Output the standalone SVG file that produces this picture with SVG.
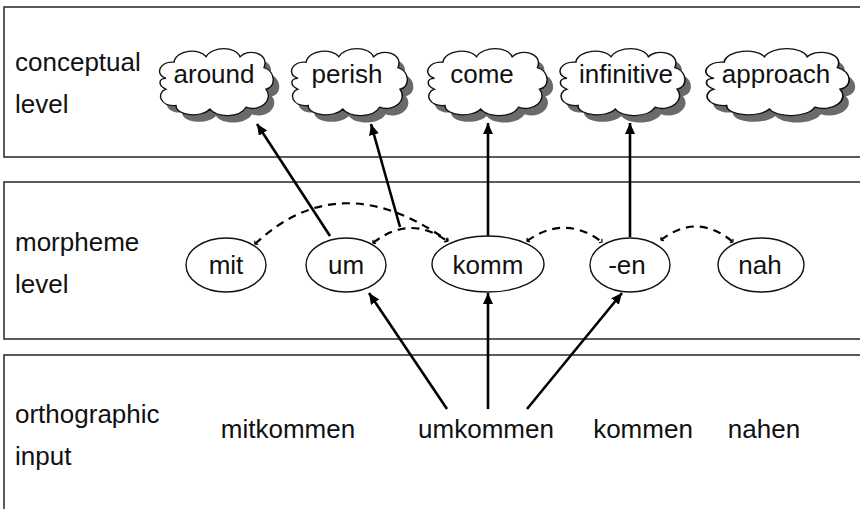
<svg xmlns="http://www.w3.org/2000/svg" width="860" height="509" viewBox="0 0 860 509">
<style>
.layer{fill:#fff;stroke:#333;stroke-width:1.6}
.lbl{font-family:"Liberation Sans",Arial,sans-serif;font-size:26px;fill:#111}
.c{text-anchor:middle}
.ell{fill:#fff;stroke:#111;stroke-width:1.4}
.cloud{fill:#fff;stroke:#111;stroke-width:1.4}
.shadow{fill:#6a6a6a}
.arr{stroke:#000;stroke-width:2.6;fill:none;marker-end:url(#ah)}
.dash{stroke:#000;stroke-width:2.2;fill:none;stroke-dasharray:8 6;marker-end:url(#tk);marker-start:url(#tks)}
</style>
<defs>
<marker id="ah" markerUnits="userSpaceOnUse" markerWidth="12" markerHeight="10" refX="11" refY="5" orient="auto"><path d="M0,0 L11,5 L0,10 Z" fill="#000"/></marker>
<marker id="tk" markerUnits="userSpaceOnUse" markerWidth="6" markerHeight="6" refX="4" refY="3" orient="auto"><path d="M2,0.5 L4,3 L2,5.5" fill="none" stroke="#000" stroke-width="1.2"/></marker>
<marker id="tks" markerUnits="userSpaceOnUse" markerWidth="6" markerHeight="6" refX="2" refY="3" orient="auto"><path d="M4,0.5 L2,3 L4,5.5" fill="none" stroke="#000" stroke-width="1.2"/></marker>
<path id="cl" d="M-50,-4 C-62,-8 -56,-24 -42,-22 C-40,-36 -16,-38 -10,-28 C-4,-40 20,-40 24,-28 C32,-38 54,-32 48,-16 C60,-12 60,6 50,8 C58,20 44,34 30,28 C24,40 0,40 -6,30 C-14,40 -40,38 -40,26 C-56,28 -60,12 -50,8 C-58,4 -58,-4 -50,-4 Z"/>
</defs>
<g id="layers">
<rect class="layer" x="4" y="7" width="870" height="150"/>
<rect class="layer" x="4" y="182" width="870" height="157"/>
<rect class="layer" x="4" y="355" width="870" height="170"/>
<text class="lbl" x="15" y="71">conceptual</text>
<text class="lbl" x="15" y="113">level</text>
<text class="lbl" x="15" y="251">morpheme</text>
<text class="lbl" x="15" y="293">level</text>
<text class="lbl" x="15" y="423">orthographic</text>
<text class="lbl" x="15" y="465">input</text>
</g>
<g id="connectors">
<path class="dash" d="M255,244 Q340,164 448,241"/>
<path class="dash" d="M373,243 Q410,214 447,241"/>
<path class="dash" d="M527,241 Q565,214 602,242"/>
<path class="dash" d="M661,240 Q697,212 733,242"/>
<line class="arr" x1="447" y1="409" x2="369" y2="293"/>
<line class="arr" x1="488" y1="409" x2="488" y2="293"/>
<line class="arr" x1="527" y1="409" x2="622" y2="293"/>
<line class="arr" x1="330" y1="236" x2="257" y2="124"/>
<line class="arr" x1="400" y1="227" x2="371" y2="124"/>
<line class="arr" x1="488" y1="237" x2="488" y2="123"/>
<line class="arr" x1="630" y1="237" x2="630" y2="123"/>
</g>
<g id="around">
<use href="#cl" class="shadow" transform="translate(222,89) scale(1,0.9)"/>
<use href="#cl" class="cloud" transform="translate(216,82) scale(1,0.9)"/>
<text class="lbl c" x="214" y="83">around</text>
</g>
<g id="perish">
<use href="#cl" class="shadow" transform="translate(355,89) scale(1.02,0.9)"/>
<use href="#cl" class="cloud" transform="translate(349,82) scale(1.02,0.9)"/>
<text class="lbl c" x="347" y="83">perish</text>
</g>
<g id="come">
<use href="#cl" class="shadow" transform="translate(493,89) scale(1.05,0.9)"/>
<use href="#cl" class="cloud" transform="translate(487,82) scale(1.05,0.9)"/>
<text class="lbl c" x="482" y="83">come</text>
</g>
<g id="infinitive">
<use href="#cl" class="shadow" transform="translate(628,89) scale(1.1,0.9)"/>
<use href="#cl" class="cloud" transform="translate(622,82) scale(1.1,0.9)"/>
<text class="lbl c" x="626" y="83">infinitive</text>
</g>
<g id="approach">
<use href="#cl" class="shadow" transform="translate(783,89) scale(1.26,0.9)"/>
<use href="#cl" class="cloud" transform="translate(777,82) scale(1.26,0.9)"/>
<text class="lbl c" x="776" y="83">approach</text>
</g>
<g id="mit"><ellipse class="ell" cx="226" cy="265" rx="40" ry="27"/><text class="lbl c" x="226" y="274">mit</text></g>
<g id="um"><ellipse class="ell" cx="346" cy="265" rx="40" ry="27"/><text class="lbl c" x="346" y="274">um</text></g>
<g id="komm"><ellipse class="ell" cx="488" cy="264" rx="56" ry="28"/><text class="lbl c" x="488" y="274">komm</text></g>
<g id="en"><ellipse class="ell" cx="630" cy="265" rx="40" ry="27"/><text class="lbl c" x="627" y="274">-en</text></g>
<g id="nah"><ellipse class="ell" cx="761" cy="265" rx="43" ry="27"/><text class="lbl c" x="760" y="274">nah</text></g>
<g id="mitkommen"><text class="lbl c" x="288" y="438">mitkommen</text></g>
<g id="umkommen"><text class="lbl c" x="486" y="438">umkommen</text></g>
<g id="kommen"><text class="lbl c" x="643" y="438">kommen</text></g>
<g id="nahen"><text class="lbl c" x="764" y="438">nahen</text></g>
</svg>
